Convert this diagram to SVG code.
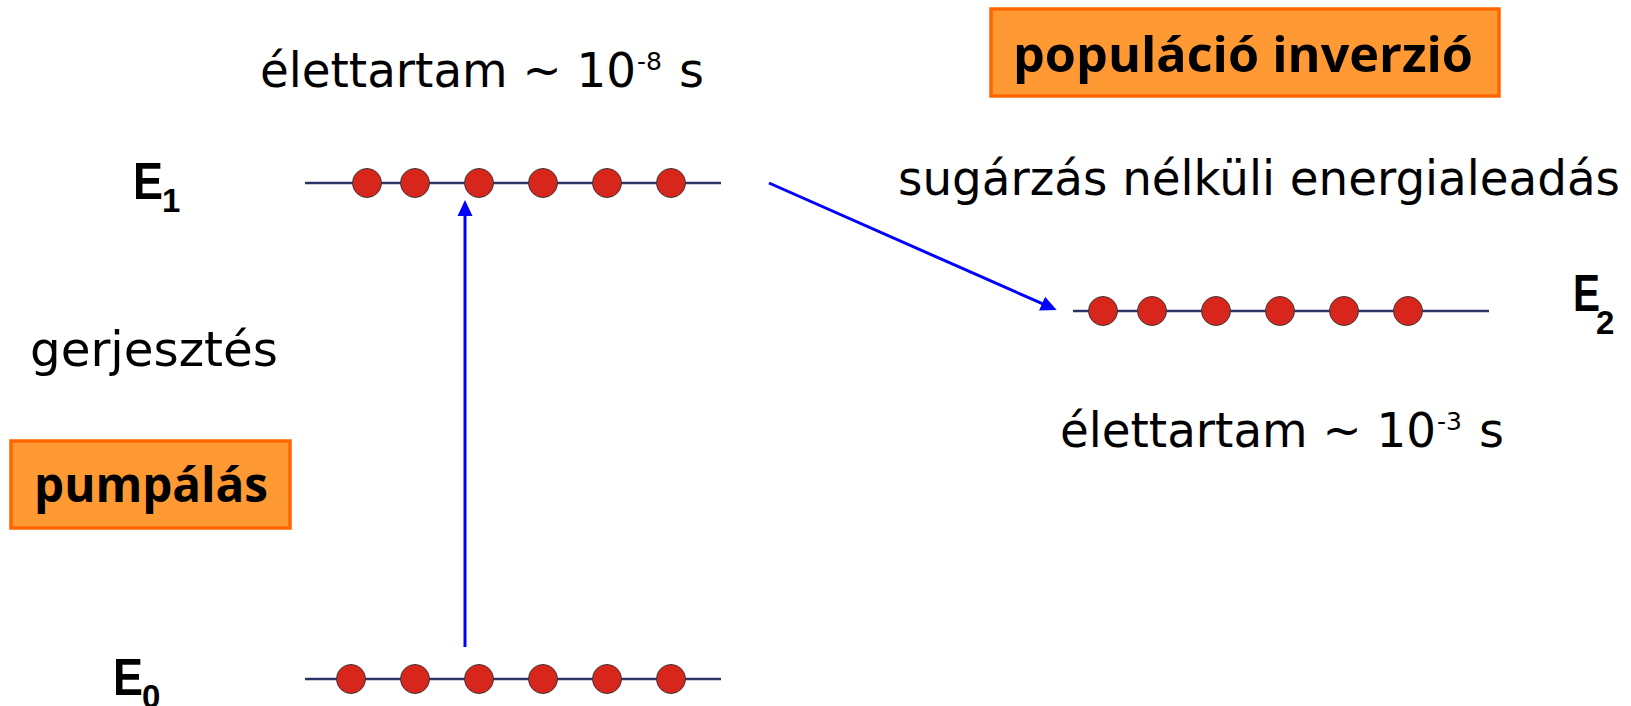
<svg xmlns="http://www.w3.org/2000/svg" width="1631" height="706" viewBox="0 0 1631 706">
<style>
.lvl{stroke:#2b3467;stroke-width:2.5;fill:none}
.p{fill:#d9261c;stroke:#3a3a3a;stroke-width:1}
.t{font-family:"DejaVu Sans","Liberation Sans",sans-serif;font-size:48px;fill:#000}
.sup{font-family:"DejaVu Sans","Liberation Sans",sans-serif;font-size:25px;fill:#000}
.lab{font-family:"Liberation Sans",Arial,sans-serif;font-weight:bold;font-size:52px;fill:#000}
.sub{font-family:"Liberation Sans",Arial,sans-serif;font-weight:bold;font-size:33px;fill:#000}
.box{fill:#ff9933;stroke:#ff6600;stroke-width:3.5}
.bt{font-family:"Open Sans","DejaVu Sans",sans-serif;font-weight:bold;font-size:48px;fill:#000}
.arr{stroke:#0000ff;stroke-width:3;fill:none}
</style>
<defs>
<marker id="ah" markerUnits="userSpaceOnUse" viewBox="0 0 16 16" markerWidth="16" markerHeight="16" refX="4" refY="8" orient="auto">
<path d="M0,0.5 L16,8 L0,15.5 z" fill="#0000ff"/>
</marker>
</defs>

<g id="level-E1">
<line class="lvl" x1="305" y1="183" x2="721" y2="183"/>
<circle class="p" cx="367" cy="183" r="14.5"/>
<circle class="p" cx="415" cy="183" r="14.5"/>
<circle class="p" cx="479" cy="183" r="14.5"/>
<circle class="p" cx="543" cy="183" r="14.5"/>
<circle class="p" cx="607" cy="183" r="14.5"/>
<circle class="p" cx="671" cy="183" r="14.5"/>
<text class="lab" x="133" y="199" textLength="30" lengthAdjust="spacingAndGlyphs">E</text>
<text class="sub" x="162" y="212">1</text>
</g>

<g id="level-E0">
<line class="lvl" x1="305" y1="679" x2="721" y2="679"/>
<circle class="p" cx="351" cy="679" r="14.5"/>
<circle class="p" cx="415" cy="679" r="14.5"/>
<circle class="p" cx="479" cy="679" r="14.5"/>
<circle class="p" cx="543" cy="679" r="14.5"/>
<circle class="p" cx="607" cy="679" r="14.5"/>
<circle class="p" cx="671" cy="679" r="14.5"/>
<text class="lab" x="113" y="695" textLength="30" lengthAdjust="spacingAndGlyphs">E</text>
<text class="sub" x="142" y="708">0</text>
</g>

<g id="level-E2">
<line class="lvl" x1="1073" y1="311" x2="1489" y2="311"/>
<circle class="p" cx="1103" cy="311" r="14.5"/>
<circle class="p" cx="1152" cy="311" r="14.5"/>
<circle class="p" cx="1216" cy="311" r="14.5"/>
<circle class="p" cx="1280" cy="311" r="14.5"/>
<circle class="p" cx="1344" cy="311" r="14.5"/>
<circle class="p" cx="1408" cy="311" r="14.5"/>
<text class="lab" x="1573" y="311" textLength="27" lengthAdjust="spacingAndGlyphs">E</text>
<text class="sub" x="1596" y="334">2</text>
</g>

<g id="lifetime-E1">
<text class="t" x="260" y="87" textLength="376" lengthAdjust="spacingAndGlyphs">élettartam ~ 10</text>
<text class="sup" x="637" y="70">-8</text>
<text class="t" x="679" y="87">s</text>
</g>

<g id="lifetime-E2">
<text class="t" x="1060" y="447" textLength="376" lengthAdjust="spacingAndGlyphs">élettartam ~ 10</text>
<text class="sup" x="1437" y="430">-3</text>
<text class="t" x="1479" y="447">s</text>
</g>

<g id="label-gerjesztes">
<text class="t" x="30" y="366" textLength="248" lengthAdjust="spacingAndGlyphs">gerjesztés</text>
</g>

<g id="label-sugarzas">
<text class="t" x="898" y="195" textLength="722" lengthAdjust="spacingAndGlyphs">sugárzás nélküli energialeadás</text>
</g>

<g id="box-populacio">
<rect class="box" x="991" y="9" width="508" height="87"/>
<text class="bt" x="1013" y="72" textLength="460" lengthAdjust="spacingAndGlyphs">populáció inverzió</text>
</g>

<g id="box-pumpalas">
<rect class="box" x="11" y="441" width="279" height="87"/>
<text class="bt" x="34" y="502" textLength="234" lengthAdjust="spacingAndGlyphs">pumpálás</text>
</g>

<g id="connectors">
<line class="arr" x1="465" y1="647" x2="465" y2="212" marker-end="url(#ah)"/>
<line class="arr" x1="769" y1="183" x2="1045.7" y2="305.2" marker-end="url(#ah)"/>
</g>
</svg>
